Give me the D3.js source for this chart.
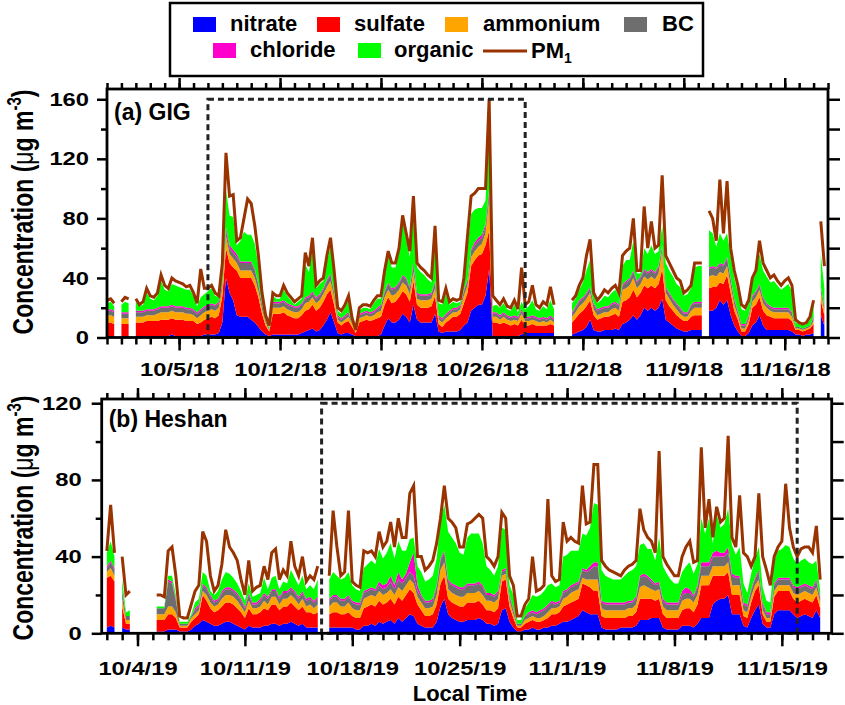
<!DOCTYPE html>
<html>
<head>
<meta charset="utf-8">
<script src="https://cdn.jsdelivr.net/npm/d3@7"></script>
<style>
  body { margin: 0; background: #fff; }
  text { font-family: "Liberation Sans", Arial, sans-serif; font-weight: bold; }
</style>
</head>
<body>
<div id="chart"></div>
<script>
var n = null;

// series keys, bottom to top of the stack
var keys = ["nitrate", "sulfate", "ammonium", "BC", "chloride", "organic"];
var colors = {
  nitrate: "#0000ff", sulfate: "#ff0000", ammonium: "#ffa500",
  BC: "#6e6e6e", chloride: "#ff00cc", organic: "#00ff00"
};
var pmColor = "#993300";

// ---- (a) GIG, 6-hourly from 9/30/18 00:00 ----
var gigStart = Date.UTC(2018, 8, 30);
var gigPM1 = [
  25,26,23,n, 24,27,26,n, 26,22,24,33, 28,27,30,42, 35,33,40,38,
  37,36,34,35, 30,23,46,33, 33,35,30,28, 50,124,95,96, 65,67,80,93,
  90,75,55,30, 15,8,30,28, 28,35,30,27, 24,26,28,57, 48,67,35,38,
  40,55,67,45, 20,18,22,28, 13,5,20,22, 22,21,25,28, 28,45,58,50,
  50,60,82,70, 58,95,50,47, 45,42,40,75, 25,24,33,24, 26,25,26,40,
  68,95,97,100, 100,100,160,28, 25,22,26,21, 20,25,19,47, 22,24,35,22,
  20,24,22,34, 22,n,n,n, n,25,28,35, 40,55,66,30, 25,28,32,30,
  33,35,30,55, 58,60,80,45, 45,88,60,78, 60,62,109,55, 50,45,40,38,
  30,32,35,50, 50,50,n,85, 80,65,106,70, 105,60,45,35, 22,20,25,40,
  45,65,50,45, 40,42,38,35, 38,40,35,12, 10,9,10,14, 25,n,78,48
];
var gigNitrate = [
  1,1,1,n, 1,1,1,n, 1,1,1,1, 1,1,1,1, 1,1,2,1,
  1,1,1,1, 1,1,1,2, 2,2,2,3, 10,40,30,25, 15,14,14,14,
  12,10,7,4, 2,1,2,2, 2,2,2,2, 2,2,3,4, 5,6,4,5,
  8,12,17,10, 3,2,3,3, 2,1,1,1, 1,1,1,1, 2,8,13,10,
  10,12,16,14, 10,22,12,10, 10,10,10,16, 4,3,4,4, 4,4,5,8,
  10,18,20,22, 22,28,46,1, 1,1,1,1, 1,1,1,2, 3,3,3,3,
  3,3,3,3, 3,n,n,n, n,2,3,4, 5,7,12,5, 4,4,5,5,
  5,6,5,9, 10,12,15,12, 15,20,18,20, 18,20,26,12, 10,8,6,5,
  4,4,5,5, 5,5,n,18, 18,20,25,22, 25,15,8,4, 1,1,3,8,
  10,15,8,5, 5,5,5,5, 5,5,4,2, 2,1,2,2, 3,n,15,8
];
var gigSulfate = [
  9,9,8,n, 8,8,8,n, 9,9,9,10, 10,10,10,11, 11,11,11,11,
  11,11,10,10, 10,8,9,10, 11,12,11,12, 18,20,20,22, 30,26,26,26,
  28,25,20,12, 6,3,14,14, 14,15,13,12, 11,11,12,14, 14,16,14,15,
  16,17,15,12, 7,6,7,8, 5,2,9,10, 11,10,11,12, 12,14,14,13,
  14,15,15,15, 14,16,10,10, 10,10,11,12, 5,4,6,8, 10,10,11,15,
  20,30,32,33, 34,34,26,9, 9,8,9,8, 7,8,7,10, 5,5,6,5,
  5,5,5,6, 5,n,n,n, n,8,10,12, 13,14,13,10, 8,9,9,9,
  10,10,9,15, 15,15,17,15, 15,15,15,15, 15,16,20,13, 11,10,9,8,
  7,7,9,10, 10,10,n,15, 16,14,12,14, 17,15,10,8, 3,3,6,12,
  12,12,10,10, 9,8,8,8, 8,8,7,3, 3,3,3,4, 6,n,10,7
];
var gigAmmonium = [
  5,5,5,n, 4,4,4,n, 4,4,4,4, 4,4,5,5, 5,5,5,5,
  5,5,5,5, 4,4,5,5, 5,5,5,5, 5,8,6,6, 5,5,5,5,
  5,5,4,3, 2,1,4,4, 4,4,4,4, 4,4,4,5, 5,5,5,5,
  5,5,6,5, 2,2,2,3, 2,1,3,3, 3,3,3,4, 4,5,5,5,
  5,5,6,6, 5,6,4,5, 5,5,5,5, 3,3,3,3, 3,3,3,5,
  5,6,6,6, 7,8,20,4, 4,3,4,3, 3,3,3,4, 3,3,3,3,
  2,3,2,3, 2,n,n,n, n,4,4,5, 5,5,5,4, 3,3,3,3,
  4,4,4,8, 8,8,8,6, 6,6,6,6, 6,7,12,5, 5,4,4,3,
  3,3,4,5, 5,5,n,8, 8,7,7,7, 6,5,4,3, 2,2,3,4,
  5,5,5,5, 4,4,4,4, 4,4,3,1, 1,1,1,1, 2,n,5,3
];
var gigBC = [
  3,3,3,n, 3,3,3,n, 3,3,3,3, 3,3,3,3, 3,3,3,3,
  3,3,3,3, 3,3,3,3, 3,3,3,3, 3,4,4,4, 4,5,5,5,
  5,5,4,3, 2,1,3,3, 3,3,3,3, 3,3,3,3, 3,3,3,3,
  3,4,4,3, 2,2,2,2, 1,0,2,2, 2,2,2,2, 3,3,4,4,
  4,4,4,4, 4,4,3,3, 3,3,3,4, 2,2,2,2, 2,2,2,3,
  3,4,4,4, 4,4,5,2, 2,2,2,2, 2,2,2,2, 2,2,2,2,
  2,2,2,2, 2,n,n,n, n,2,3,3, 3,3,3,3, 3,3,3,3,
  3,3,3,3, 4,4,4,4, 4,4,4,4, 4,4,3,3, 3,3,3,3,
  2,2,3,3, 3,3,n,5, 5,5,5,5, 5,4,3,2, 2,2,2,3,
  3,3,3,2, 2,2,2,2, 2,2,2,1, 1,1,1,1, 2,n,3,2
];
var gigChloride = [
  1,1,1,n, 1,1,1,n, 1,1,1,1, 1,1,1,1, 1,1,1,1,
  1,1,1,1, 1,1,1,1, 1,1,1,1, 1,2,2,2, 2,1,1,1,
  1,1,1,1, 0,0,1,1, 1,1,1,1, 1,1,1,1, 1,1,1,1,
  1,1,1,1, 1,1,1,1, 0,0,1,1, 1,1,1,1, 1,1,1,1,
  1,1,1,1, 1,2,1,1, 1,1,1,1, 1,1,1,1, 1,1,1,1,
  1,1,2,2, 2,2,3,1, 1,1,1,1, 1,1,1,1, 1,1,1,1,
  1,1,1,1, 1,n,n,n, n,1,1,1, 1,1,1,1, 1,1,1,1,
  1,1,1,1, 1,1,1,1, 1,1,1,1, 1,1,1,1, 1,1,1,1,
  1,1,1,1, 1,1,n,1, 1,1,1,1, 1,1,1,1, 1,1,1,1,
  1,1,1,1, 1,1,1,1, 1,1,1,0, 0,0,0,0, 1,n,1,1
];
var gigOrganic = [
  4,5,3,n, 5,7,6,n, 6,3,4,11, 7,6,8,17, 11,10,14,14,
  13,12,12,12, 9,4,8,8, 9,10,6,3, 8,25,20,22, 6,14,20,18,
  18,17,12,5, 2,1,4,2, 2,7,5,3, 1,3,3,22, 16,28,6,7,
  5,12,18,12, 3,3,5,8, 2,0,2,3, 2,2,5,6, 4,11,18,14,
  13,20,36,26, 20,30,17,15, 13,10,7,33, 8,9,13,4, 4,3,2,5,
  22,24,22,20, 18,16,40,4, 5,5,6,4, 4,7,3,5, 5,7,10,5,
  5,7,6,10, 6,n,n,n, n,6,5,7, 10,15,18,5, 4,5,7,6,
  7,8,6,12, 14,12,20,5, 2,14,12,16, 12,10,13,16, 15,15,13,14,
  11,12,11,23, 24,24,n,25, 22,14,20,16, 16,15,14,12, 10,9,8,10,
  12,20,18,18, 16,18,15,12, 14,16,14,3, 2,2,2,4, 8,n,22,12
];

// ---- (b) Heshan, 6-hourly from 10/2/19 00:00 ----
var heshanStart = Date.UTC(2019, 9, 2);
var heshanPM1 = [
  43,67,42,n, 40,20,22,n, n,n,n,n, n,20,20,19, 43,45,30,9,
  8,8,15,22, 25,53,48,30, 22,25,36,54, 45,42,38,28, 20,38,22,24,
  25,35,28,42, 44,28,33,30, 48,35,30,40, 27,30,28,35, n,n,30,64,
  45,30,32,64, 27,25,24,43, 42,43,40,53, 45,48,58,45, 60,50,50,73,
  77,40,40,33, 35,38,47,60, 77,60,58,55, 45,45,57,58, 60,62,60,40,
  38,35,40,63, 60,30,25,9, 9,15,18,40, 22,23,25,70, 30,27,28,58,
  48,50,48,47, 77,57,58,88, 88,38,35,33, 32,31,30,33, 35,36,38,65,
  54,50,48,42, 95,40,36,33, 30,30,40,45, 48,37,38,97, 55,70,50,66,
  58,60,103,50, 45,72,42,40, 35,40,73,40, 33,25,40,45, 48,78,55,45,
  40,44,45,45, 42,56,28,n
];
var heshanNitrate = [
  3,4,3,n, 3,2,2,n, n,n,n,n, n,1,1,1, 2,2,2,1,
  1,1,2,4, 5,7,6,5, 4,4,5,6, 6,5,4,3, 2,4,3,3,
  3,4,4,5, 5,4,5,5, 6,5,4,5, 3,3,3,3, n,n,3,3,
  3,3,3,3, 3,2,2,4, 4,5,4,6, 5,6,7,5, 8,6,8,10,
  9,5,4,3, 3,3,6,14, 18,10,8,7, 6,6,7,7, 7,8,7,5,
  5,4,5,12, 13,6,3,1, 1,2,2,3, 2,2,3,3, 4,4,5,6,
  6,7,8,9, 12,11,10,10, 10,3,2,2, 2,2,3,3, 3,3,4,7,
  7,7,8,8, 8,3,2,2, 2,2,4,4, 4,3,5,8, 8,8,15,17,
  18,18,20,10, 10,10,4,3, 8,12,15,5, 3,3,10,12, 12,12,12,10,
  8,9,10,9, 8,12,8,n
];
var heshanSulfate = [
  26,26,24,n, 11,3,3,n, n,n,n,n, n,6,6,6, 8,8,6,2,
  2,2,4,4, 5,13,11,8, 7,8,9,10, 10,10,9,8, 6,9,7,7,
  8,9,8,10, 10,8,9,9, 10,9,8,9, 8,8,7,8, n,n,7,8,
  8,7,7,8, 6,6,6,9, 10,10,10,11, 10,10,11,10, 11,11,12,13,
  12,10,8,6, 6,7,9,12, 12,8,8,8, 8,8,9,9, 9,9,8,7,
  7,7,8,15, 15,8,5,2, 2,3,4,4, 4,4,4,5, 6,6,6,8,
  9,9,9,9, 14,14,14,12, 12,6,6,6, 6,6,5,5, 6,6,7,11,
  11,11,10,9, 10,7,6,6, 6,6,8,9, 9,8,10,17, 17,17,15,13,
  12,12,12,10, 10,10,5,5, 8,10,10,5, 3,3,9,10, 10,10,10,8,
  8,8,8,8, 8,8,5,n
];
var heshanAmmonium = [
  3,4,3,n, 4,2,2,n, n,n,n,n, n,3,3,3, 4,4,3,1,
  1,1,2,2, 2,2,3,3, 3,3,4,4, 4,4,4,3, 3,4,3,3,
  3,4,3,4, 4,3,4,4, 4,4,3,4, 3,4,3,4, n,n,4,5,
  5,4,4,5, 4,4,4,5, 5,5,5,5, 5,5,5,5, 5,5,5,5,
  5,4,4,4, 4,4,5,7, 7,5,5,5, 5,5,5,5, 5,5,5,5,
  5,5,5,3, 3,3,2,1, 1,2,2,2, 2,2,2,3, 3,3,3,4,
  4,5,5,5, 3,3,4,6, 6,4,4,4, 4,4,4,4, 4,4,4,6,
  7,6,5,5, 5,4,4,4, 4,4,5,5, 5,5,5,5, 5,5,5,5,
  5,5,5,5, 5,5,3,3, 3,3,3,2, 2,2,3,3, 3,3,3,3,
  4,4,4,4, 4,4,3,n
];
var heshanBC = [
  2,3,3,n, 4,2,2,n, n,n,n,n, n,3,3,3, 13,12,6,1,
  1,1,1,2, 2,3,3,3, 2,2,3,3, 3,3,3,3, 2,3,2,2,
  3,3,3,3, 3,3,3,3, 3,3,3,3, 3,3,3,3, n,n,3,3,
  3,3,3,3, 3,3,3,3, 3,3,3,3, 3,3,4,3, 4,4,4,4,
  4,3,3,3, 3,3,4,5, 5,4,4,4, 4,4,4,4, 4,4,4,3,
  3,3,3,2, 2,2,2,1, 1,2,2,2, 2,3,3,3, 3,2,2,3,
  3,3,3,3, 4,4,5,7, 7,3,3,3, 3,3,3,3, 3,3,3,5,
  5,5,4,3, 3,3,3,3, 3,3,3,3, 3,3,4,5, 5,5,5,5,
  5,5,5,5, 4,4,3,3, 3,3,4,3, 2,2,3,3, 3,3,3,3,
  3,3,3,3, 3,3,2,n
];
var heshanChloride = [
  1,1,1,n, 1,0,0,n, n,n,n,n, n,0,0,0, 1,1,1,0,
  0,0,0,1, 1,1,1,1, 1,1,1,1, 1,1,1,1, 1,1,1,1,
  1,1,1,1, 1,1,1,1, 1,1,1,1, 1,1,1,1, n,n,1,1,
  1,1,1,1, 1,1,1,1, 1,1,1,2, 2,2,3,2, 4,2,2,5,
  12,3,1,1, 1,1,1,1, 1,1,1,1, 1,1,1,1, 1,1,1,1,
  1,1,1,1, 1,1,1,0, 0,0,1,1, 1,1,1,1, 1,1,1,1,
  1,1,1,1, 1,1,2,2, 2,1,1,1, 1,1,1,1, 1,1,1,1,
  1,1,1,1, 1,1,1,1, 1,1,2,3, 2,1,1,2, 2,2,2,3,
  2,2,3,1, 1,1,1,1, 1,1,1,1, 1,1,1,1, 1,1,1,1,
  1,1,1,1, 1,1,1,n
];
var heshanOrganic = [
  7,10,6,n, 5,2,3,n, n,n,n,n, n,1,1,1, 2,3,2,1,
  1,1,1,3, 3,6,6,2, 3,4,6,8, 7,6,5,4, 3,5,3,4,
  3,8,4,6, 7,4,5,4, 9,7,6,8, 5,6,6,9, n,n,10,12,
  10,10,11,12, 8,7,6,12, 13,14,13,17, 14,16,17,14, 16,15,12,12,
  8,10,12,10, 11,12,14,20, 24,25,24,22, 18,17,24,26, 26,25,22,14,
  12,10,13,22, 20,5,7,2, 2,4,5,8, 8,8,9,10, 9,8,8,18,
  18,18,17,16, 18,18,20,31, 30,16,14,13, 12,12,12,14, 15,16,16,16,
  16,14,16,12, 23,17,15,12, 10,10,10,11, 14,11,11,23, 15,23,5,19,
  13,15,20,15, 11,15,10,6, 8,10,12,8, 6,5,12,14, 15,17,16,14,
  12,13,13,12, 12,10,3,n
];

// tick labels
var gigMajorDays = ["2018-10-05", "2018-10-12", "2018-10-19", "2018-10-26", "2018-11-02", "2018-11-09", "2018-11-16"];
var heshanMajorDays = ["2019-10-04", "2019-10-11", "2019-10-18", "2019-10-25", "2019-11-01", "2019-11-08", "2019-11-15"];
var legendItems = [
  {key: "nitrate", label: "nitrate"}, {key: "sulfate", label: "sulfate"},
  {key: "ammonium", label: "ammonium"}, {key: "BC", label: "BC"},
  {key: "chloride", label: "chloride"}, {key: "organic", label: "organic"}
];

var svg = d3.select("#chart").append("svg")
  .attr("width", 845)
  .attr("height", 705)
  .style("background", "#fff");

function buildRows(start, pm, comps) {
  return pm.map(function(v, i) {
    var r = {t: d3.utcHour.offset(new Date(start), 6 * i), pm: v};
    keys.forEach(function(k) { r[k] = comps[k][i]; });
    return r;
  });
}

var fmt = d3.utcFormat("%-m/%-d/%y");

function drawPanel(p) {
  var x = d3.scaleUtc().domain(p.xDomain).range([p.left, p.right]);
  var y = d3.scaleLinear().domain([0, p.yMax]).range([p.bottom, p.top]);
  var rows = buildRows(p.start, p.pm, p.comps);

  var series = d3.stack().keys(keys)
    .value(function(d, k) { return d[k] == null ? 0 : d[k]; })(rows);

  var area = d3.area()
    .defined(function(d) { return d.data.pm != null; })
    .x(function(d) { return x(d.data.t); })
    .y0(function(d) { return y(d[0]); })
    .y1(function(d) { return y(d[1]); });

  var g = svg.append("g");
  g.selectAll("path.layer")
    .data(series)
    .enter().append("path")
    .attr("class", "layer")
    .attr("fill", function(d) { return colors[d.key]; })
    .attr("d", area);

  var line = d3.line()
    .defined(function(d) { return d.pm != null; })
    .x(function(d) { return x(d.t); })
    .y(function(d) { return y(d.pm); });

  g.append("path")
    .datum(rows)
    .attr("fill", "none")
    .attr("stroke", pmColor)
    .attr("stroke-width", 3)
    .attr("d", line);

  // dashed highlight box
  var bx0 = x(new Date(p.box[0])), bx1 = x(new Date(p.box[1]));
  g.append("rect")
    .attr("x", bx0).attr("y", y(p.box[2]))
    .attr("width", bx1 - bx0).attr("height", y(0) - y(p.box[2]))
    .attr("fill", "none")
    .attr("stroke", "#222")
    .attr("stroke-width", 3)
    .attr("stroke-dasharray", "6,4");

  var majors = p.majors.map(function(s) { return new Date(s + "T00:00:00Z"); });

  function clean(sel) {
    sel.select(".domain").remove();
    sel.selectAll(".tick line").attr("stroke", "#000").attr("stroke-width", 2.5);
  }

  // bottom + top time axes
  g.append("g").attr("transform", "translate(0," + p.bottom + ")")
    .call(d3.axisBottom(x).ticks(d3.utcDay.every(1)).tickSize(7).tickFormat(""))
    .call(clean);
  var xb = g.append("g").attr("transform", "translate(0," + p.bottom + ")")
    .call(d3.axisBottom(x).tickValues(majors).tickSize(13).tickPadding(p.xPad).tickFormat(fmt))
    .call(clean);
  xb.selectAll("text")
    .attr("fill", "#000")
    .style("font-size", "19px")
    .attr("transform", "scale(1.25,1)");
  g.append("g").attr("transform", "translate(0," + p.top + ")")
    .call(d3.axisTop(x).ticks(d3.utcDay.every(1)).tickSize(6).tickFormat(""))
    .call(clean);
  g.append("g").attr("transform", "translate(0," + p.top + ")")
    .call(d3.axisTop(x).tickValues(majors).tickSize(11).tickFormat(""))
    .call(clean);

  // left + right value axes
  var yl = g.append("g").attr("transform", "translate(" + p.left + ",0)")
    .call(d3.axisLeft(y).tickValues(p.yMajor).tickSize(10).tickFormat(d3.format("d")))
    .call(clean);
  yl.selectAll("text")
    .attr("fill", "#000")
    .style("font-size", "19px")
    .attr("x", -p.yPad / 1.25)
    .attr("transform", "scale(1.25,1)");
  g.append("g").attr("transform", "translate(" + p.left + ",0)")
    .call(d3.axisLeft(y).tickValues(p.yMinor).tickSize(6).tickFormat(""))
    .call(clean);
  g.append("g").attr("transform", "translate(" + p.right + ",0)")
    .call(d3.axisRight(y).tickValues(p.yMajor.concat(p.yMinor)).tickSize(12).tickFormat(""))
    .call(clean);

  // frame
  g.append("rect")
    .attr("x", p.left).attr("y", p.top)
    .attr("width", p.right - p.left).attr("height", p.bottom - p.top)
    .attr("fill", "none").attr("stroke", "#000").attr("stroke-width", 2.8);

  g.append("text")
    .attr("x", p.left + 7).attr("y", p.top + p.labelDy)
    .style("font-size", "23px")
    .text(p.label);

  // y title
  var yt = g.append("text")
    .attr("transform", "translate(33," + p.titleY + ") scale(1.3,1) rotate(-90)")
    .attr("text-anchor", "middle")
    .style("font-size", "23px");
  yt.append("tspan").text("Concentration (");
  yt.append("tspan").style("font-weight", "normal").text("\u03bc");
  yt.append("tspan").text("g m");
  yt.append("tspan").attr("dy", -9).style("font-size", "15px").text("-3");
  yt.append("tspan").attr("dy", 9).text(")");
}

drawPanel({
  left: 107, right: 828, top: 89, bottom: 337.5, yMax: 166.9,
  xDomain: [new Date(Date.UTC(2018, 8, 30)), new Date(Date.UTC(2018, 10, 19))],
  start: gigStart, pm: gigPM1,
  comps: {nitrate: gigNitrate, sulfate: gigSulfate, ammonium: gigAmmonium, BC: gigBC, chloride: gigChloride, organic: gigOrganic},
  majors: gigMajorDays, xPad: 12, yPad: 18,
  yMajor: [0, 40, 80, 120, 160], yMinor: [20, 60, 100, 140],
  box: [Date.UTC(2018, 9, 7), Date.UTC(2018, 9, 29), 160],
  label: "(a) GIG", labelDy: 31, titleY: 212
});

drawPanel({
  left: 101.7, right: 831.7, top: 399, bottom: 633.3, yMax: 122.2,
  xDomain: [new Date(Date.UTC(2019, 9, 1, 16)), new Date(Date.UTC(2019, 10, 18, 6))],
  start: heshanStart, pm: heshanPM1,
  comps: {nitrate: heshanNitrate, sulfate: heshanSulfate, ammonium: heshanAmmonium, BC: heshanBC, chloride: heshanChloride, organic: heshanOrganic},
  majors: heshanMajorDays, xPad: 15, yPad: 20,
  yMajor: [0, 40, 80, 120], yMinor: [20, 60, 100],
  box: [Date.UTC(2019, 9, 16), Date.UTC(2019, 10, 16), 120],
  label: "(b) Heshan", labelDy: 28, titleY: 518
});

svg.append("text")
  .attr("x", 470).attr("y", 701)
  .attr("text-anchor", "middle")
  .style("font-size", "22px")
  .text("Local Time");

// legend
var legend = svg.append("g");
legend.append("rect")
  .attr("x", 170).attr("y", 3).attr("width", 533).attr("height", 73)
  .attr("fill", "#fff").attr("stroke", "#000").attr("stroke-width", 2.5);

var legendPos = [
  {sx: 193, tx: 230, row: 0}, {sx: 317, tx: 354, row: 0},
  {sx: 445, tx: 483, row: 0}, {sx: 624, tx: 662, row: 0},
  {sx: 213, tx: 250, row: 1}, {sx: 358, tx: 394, row: 1}
];
legendItems.forEach(function(item, i) {
  var pos = legendPos[i];
  var yTop = pos.row === 0 ? 17 : 43;
  legend.append("rect")
    .attr("x", pos.sx).attr("y", yTop).attr("width", 23).attr("height", 15)
    .attr("fill", colors[item.key]);
  legend.append("text")
    .attr("x", pos.tx).attr("y", yTop + 14)
    .style("font-size", "22px")
    .text(item.label);
});
legend.append("line")
  .attr("x1", 483).attr("x2", 527).attr("y1", 51).attr("y2", 51)
  .attr("stroke", pmColor).attr("stroke-width", 3);
var pmText = legend.append("text")
  .attr("x", 531).attr("y", 58)
  .style("font-size", "22px");
pmText.append("tspan").text("PM");
pmText.append("tspan").attr("dy", 5).style("font-size", "14px").text("1");
</script>
</body>
</html>
